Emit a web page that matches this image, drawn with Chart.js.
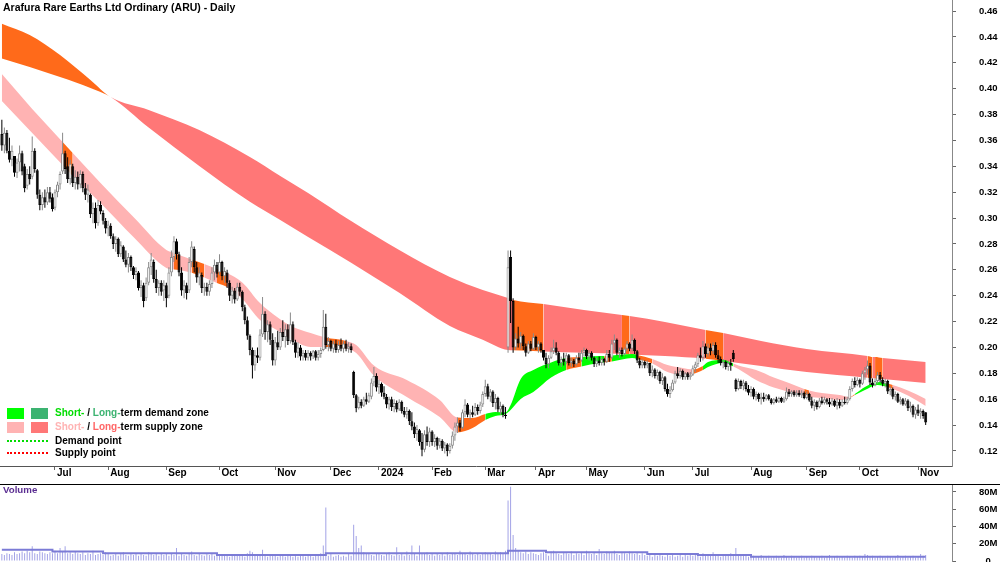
<!DOCTYPE html>
<html>
<head>
<meta charset="utf-8">
<script src="https://cdn.jsdelivr.net/npm/chart.js@4.4.1/dist/chart.umd.min.js"></script>
<style>
  body { margin: 0; background: #fff; font-family: "Liberation Sans", Arial, sans-serif; }
  #wrap { position: relative; width: 1000px; height: 562px; overflow: hidden; background: #fff; }
  canvas { position: absolute; left: 0; }
  #priceChart { top: 0; }
  #volChart { top: 485px; }
  #sep { position: absolute; left: 0; top: 484px; width: 1000px; border-top: 1px solid #000; }
  .txt { position: absolute; white-space: nowrap; font-weight: bold; color: #000; z-index: 2; }
  .box { position: absolute; z-index: 2; }
</style>
</head>
<body>
<div id="wrap">
  <canvas id="priceChart" width="1000" height="483"></canvas>
  <div id="sep"></div>
  <canvas id="volChart" width="1000" height="77"></canvas>

  <div class="txt" style="left:3px;top:1px;font-size:10.5px;line-height:12px">Arafura Rare Earths Ltd Ordinary (ARU) - Daily</div>

  <div class="box" style="left:7px;top:408px;width:17px;height:11px;background:#00ff00"></div>
  <div class="box" style="left:31px;top:408px;width:17px;height:11px;background:#3cb371"></div>
  <div class="txt" style="left:55px;top:407px;font-size:10px;line-height:12px"><span style="color:#00dd00">Short-</span> / <span style="color:#3cb371">Long-</span>term demand zone</div>
  <div class="box" style="left:7px;top:422px;width:17px;height:11px;background:#ffb3b3"></div>
  <div class="box" style="left:31px;top:422px;width:17px;height:11px;background:#ff7777"></div>
  <div class="txt" style="left:55px;top:421px;font-size:10px;line-height:12px"><span style="color:#ffb3b3">Short-</span> / <span style="color:#ff6666">Long-</span>term supply zone</div>
  <div class="box" style="left:7px;top:440px;width:41px;border-top:2px dotted #00dd00"></div>
  <div class="txt" style="left:55px;top:435px;font-size:10px;line-height:12px">Demand point</div>
  <div class="box" style="left:7px;top:452px;width:41px;border-top:2px dotted #ff0000"></div>
  <div class="txt" style="left:55px;top:447px;font-size:10px;line-height:12px">Supply point</div>

  <div class="txt" style="left:3px;top:484px;font-size:9.7px;line-height:12px;color:#5a2d91">Volume</div>
</div>

<script>
// price in 1/1000 dollar, one entry per trading day (Jun 2023 - Nov 2024)
const opens = [
  365,356,366,352,345,348,335,343,350,340, 325,334,332,352,337,318,310,316,312,320,
  316,308,320,326,336,350,340,330,340,327, 332,326,334,323,318,318,303,308,296,310,
  304,298,292,294,286,280,284,272,278,268, 264,270,262,256,258,246,248,238,250,262,
  266,253,246,250,244,248,240,258,270,282, 272,258,244,248,244,266,276,262,254,256,
  246,247,243,249,258,264,258,266,255,258, 250,240,244,237,247,243,231,221,209,198,
  186,194,192,210,226,212,218,206,190,204, 200,212,208,214,205,218,204,196,200,193,
  196,192,196,193,197,192,195,198,216,202, 205,199,203,198,202,199,203,199,201,181,
  163,153,158,155,160,158,162,173,178,169, 172,165,162,156,160,154,157,152,158,151,
  148,151,143,139,133,136,127,121,133,127, 135,127,130,124,128,122,125,120,124,132,
  139,142,138,150,156,148,150,148,154,151, 156,164,170,162,166,157,161,152,155,148,
  200,270,236,200,207,203,209,201,196,203, 199,208,200,203,198,192,187,192,197,200,
  196,188,191,189,194,188,190,187,192,190, 196,198,193,196,192,187,190,188,191,189,
  195,192,203,206,196,198,195,199,203,199, 206,197,190,186,189,186,188,180,183,178,
  181,174,177,168,164,167,173,180,178,182, 177,180,177,179,184,187,194,192,201,195,
  200,197,202,194,191,188,189,185,188,196, 175,168,174,170,173,168,165,168,162,164,
  160,162,160,163,160,157,160,158,161,158, 160,166,164,166,163,165,163,165,161,164,
  159,155,158,154,159,157,160,158,156,159, 155,158,155,158,157,160,168,174,171,175,
  172,180,183,186,173,171,174,179,175,172, 174,166,168,162,164,158,160,156,159,153,
  155,148,152,149,151,150
];
const highs = [
  376,370,368,362,356,348,346,356,352,342, 338,340,363,354,338,322,320,322,324,324,
  319,322,328,336,366,352,347,345,342,337, 336,337,336,327,326,319,312,312,314,313,
  306,300,298,296,288,286,285,282,279,275, 273,271,263,262,259,252,250,254,266,273,
  268,260,252,252,252,250,262,275,286,284, 274,262,252,250,270,282,278,266,262,258,
  250,250,252,262,268,266,272,267,262,260, 252,247,246,250,250,244,233,224,210,200,
  198,200,214,239,228,221,220,211,208,213, 215,221,218,218,227,220,206,204,202,198,
  198,198,197,198,198,198,200,229,226,208, 206,205,206,205,207,205,206,204,203,182,
  164,162,160,162,165,165,176,185,180,175, 173,170,164,162,162,160,159,160,159,154,
  154,152,150,142,140,137,134,136,139,138, 136,133,131,130,129,127,126,126,135,142,
  146,144,152,160,157,152,155,157,156,158, 166,175,172,168,167,164,162,158,156,154,
  275,275,238,211,216,212,210,203,205,205, 211,209,205,204,198,196,194,200,206,204,
  197,193,196,196,195,192,191,194,196,198, 200,199,198,197,193,192,193,193,192,198,
  198,206,210,207,200,200,200,205,204,210, 207,198,192,191,190,190,188,186,184,183,
  182,180,178,172,170,175,182,185,184,183, 181,181,181,186,189,196,200,205,203,203,
  203,204,204,198,193,191,190,190,191,198, 176,176,175,175,174,171,170,169,166,165,
  165,165,164,164,161,161,162,162,162,162, 169,168,167,167,167,167,167,166,166,165,
  162,160,159,161,162,162,161,161,161,160, 161,160,160,162,162,170,176,177,177,176,
  182,185,190,188,176,176,181,181,177,176, 175,170,169,166,165,162,161,161,160,158,
  156,154,156,153,152,150
];
const lows = [
  352,350,350,343,340,332,331,336,333,320, 322,326,330,335,315,306,306,308,310,312,
  305,306,316,322,334,334,327,326,324,322, 322,323,320,314,312,300,296,292,294,303,
  295,288,286,284,276,274,270,270,266,262, 258,259,253,252,244,239,231,236,248,256,
  250,242,240,240,236,231,238,255,266,268, 255,240,238,237,242,262,258,250,248,242,
  240,240,240,246,252,254,256,252,250,246, 236,234,234,236,240,228,218,206,194,176,
  182,188,190,208,206,204,202,186,186,198, 198,205,200,202,203,202,192,192,190,190,
  190,190,190,191,190,190,192,197,199,197, 197,196,196,196,197,196,197,196,196,161,
  150,152,153,154,156,157,160,170,166,164, 162,160,153,152,151,150,150,151,149,146,
  145,140,136,130,128,124,116,119,124,123, 124,123,121,122,120,118,116,118,122,128,
  134,135,137,146,146,144,146,147,148,149, 154,162,160,158,154,152,150,148,146,145,
  196,219,196,198,200,199,198,193,195,197, 198,198,196,196,190,184,184,191,195,194,
  186,185,186,187,186,185,185,186,188,189, 193,191,190,190,185,185,186,186,186,188,
  189,191,198,194,192,193,194,197,197,197, 195,188,184,184,184,184,178,177,176,175,
  172,171,166,162,161,166,172,176,176,175, 175,175,175,178,181,185,189,190,192,193,
  194,195,192,188,186,184,183,182,182,189, 166,167,168,167,166,163,162,160,159,158,
  156,158,159,159,156,156,157,157,157,157, 159,162,162,162,162,162,161,160,160,158,
  153,151,152,153,156,156,156,154,155,154, 152,153,154,156,156,159,166,169,170,169,
  171,175,179,171,169,170,172,173,170,169, 164,163,160,159,157,156,155,155,151,150,
  146,145,147,145,145,140
];
const closes = [
  356,366,352,345,352,335,343,350,336,323, 334,330,352,338,318,310,316,312,320,315,
  307,320,326,334,350,338,330,342,327,332, 326,334,323,318,322,303,308,296,310,305,
  298,292,295,286,280,284,272,279,268,264, 270,262,256,259,246,248,236,250,262,268,
  253,246,250,243,248,238,258,270,282,272, 258,244,248,242,266,278,262,254,258,246,
  247,243,249,258,264,257,266,255,259,250, 240,244,237,247,243,231,221,209,198,186,
  194,192,210,226,212,218,206,190,204,200, 212,208,214,205,218,204,196,200,193,196,
  192,196,193,197,192,195,198,216,202,205, 199,203,198,202,199,203,199,201,198,163,
  153,158,155,160,158,163,173,178,169,172, 165,162,156,160,154,157,152,158,151,148,
  151,143,139,133,137,127,121,133,127,135, 127,130,124,128,122,125,120,124,132,139,
  142,138,150,156,148,150,148,154,151,156, 164,170,162,166,157,161,152,155,148,147,
  262,236,200,207,203,209,201,196,203,199, 208,200,203,198,192,187,192,197,200,196,
  188,191,189,194,188,190,187,192,190,196, 198,193,196,192,187,190,188,191,189,195,
  192,203,206,196,198,195,199,203,199,206, 197,190,186,189,186,188,180,183,178,181,
  174,177,168,164,167,173,180,178,182,177, 180,177,179,184,187,194,192,201,195,200,
  197,202,194,191,188,189,185,188,186,191, 168,174,170,173,168,165,168,162,164,160,
  162,160,163,160,157,160,158,161,158,160, 166,164,166,163,165,163,165,161,164,159,
  155,158,154,159,157,160,158,156,159,155, 158,155,158,157,160,168,174,171,175,172,
  180,183,186,173,171,174,179,175,172,174, 166,168,162,164,158,160,156,159,153,155,
  148,152,149,151,147,142
];
// volume in millions
const volumes = [
  8,7,9,8,7,10,8,9,11,9,12,10,17,9,8,11,10,9,8,10,9,
  12,9,15,11,17,9,10,8,11,9,8,10,7,9,8,12,7,8,9,7,10,
  8,6,7,9,6,8,10,7,6,8,7,9,6,8,7,6,10,8,7,9,6,8,7,
  9,6,8,7,15,6,8,7,6,9,11,7,6,8,7,6,9,7,8,6,7,
  6,8,7,6,5,7,6,8,6,7,5,9,12,10,6,8,7,13,6,5,7,6,
  6,5,7,6,5,6,8,5,6,5,7,6,5,6,7,5,6,8,9,18,62,6,
  8,5,6,7,5,6,5,8,6,42,29,15,18,10,8,9,7,6,8,
  9,7,6,8,10,7,6,16,7,8,6,11,7,18,8,6,18,9,8,10,7,
  8,6,9,7,8,6,10,7,9,8,7,12,9,8,7,11,8,7,9,7,8,
  10,8,9,7,11,8,10,9,12,
  70,86,30,15,12,10,9,11,8,10,9,
  8,7,9,10,8,6,11,12,9,8,7,10,9,8,11,7,9,8,10,7,
  12,9,8,10,7,14,9,8,11,10,9,12,8,7,10,9,8,11,9,8,10,7,9,
  7,6,8,5,7,6,9,6,5,7,6,8,5,6,7,5,8,6,7,
  6,8,7,5,9,6,7,8,10,6,7,5,8,6,7,9,8,15,7,6,8,6,5,
  5,6,4,5,7,4,5,6,4,5,6,5,4,7,5,4,6,5,4,5,6,4,
  5,4,6,5,4,5,6,4,5,7,4,5,6,4,5,4,6,5,4,6,5,
  6,5,8,7,5,6,4,5,6,5,4,6,5,4,5,7,4,5,6,4,5,6,4,
  5,8,6,7
];
// average volume (millions), stepped
const avgIdx = [0, 20, 40, 85, 128, 200, 215, 255, 275, 296, 365];
const avgVol = [13, 11, 9, 7, 9, 12, 10, 8, 7, 5, 5];

// long-term zone edges (sampled by bar index)
const longIdx = [0,11,23,35,43,58,78,98,110,121,138,157,177,190,200,202,214,230,245,248,262,278,285,300,318,342,344,345,348,365];
const longTop = [0.4502,0.4415,0.4260,0.4067,0.3935,0.3835,0.3680,0.3472,0.3325,0.3194,0.2977,0.2753,0.2544,0.2444,0.2382,0.2367,0.2336,0.2289,0.2251,0.2243,0.2197,0.2135,0.2112,0.2050,0.1988,0.1934,0.1926,0.1926,0.1918,0.1888];
const longBot = [0.4233,0.4167,0.4090,0.4005,0.3935,0.3699,0.3403,0.3126,0.2985,0.2854,0.2655,0.2422,0.2166,0.2060,0.1980,0.1978,0.1969,0.1959,0.1949,0.1945,0.1934,0.1913,0.1895,0.1857,0.1810,0.1766,0.1762,0.1761,0.1756,0.1725];
const longOrange = [[0,43],[202,214],[245,248],[278,285],[342,344],[345,348]];

// short-term zone edges
const shortIdx = [0,12,24,28,39,52,65,68,70,75,80,85,89,95,102,109,115,122,128,136,140,147,160,173,180,186,191,195,199,201,205,210,217,223,229,236,238,241,249,251,257,263,269,273,277,279,285,289,291,298,305,311,317,319,324,331,335,337,341,346,350,352,358,365];
const shortTop = [0.4113,0.3843,0.3588,0.3503,0.3271,0.3008,0.2753,0.2730,0.2714,0.2680,0.2645,0.2606,0.2575,0.2502,0.2343,0.2231,0.2158,0.2112,0.2077,0.2050,0.2019,0.1860,0.1748,0.1594,0.1459,0.1455,0.1486,0.1501,0.1497,0.1555,0.1756,0.1826,0.1884,0.1918,0.1926,0.1934,0.1934,0.1938,0.1949,0.1942,0.1911,0.1864,0.1841,0.1830,0.1857,0.1887,0.1903,0.1876,0.1860,0.1826,0.1768,0.1725,0.1679,0.1667,0.1648,0.1632,0.1617,0.1640,0.1694,0.1733,0.1721,0.1710,0.1667,0.1602];
const shortBot = [0.3904,0.3657,0.3410,0.3325,0.3116,0.2853,0.2614,0.2602,0.2598,0.2577,0.2541,0.2498,0.2467,0.2374,0.2212,0.2131,0.2057,0.2003,0.2003,0.1992,0.1957,0.1783,0.1617,0.1462,0.1343,0.1377,0.1439,0.1470,0.1486,0.1517,0.1602,0.1656,0.1768,0.1826,0.1853,0.1880,0.1884,0.1891,0.1918,0.1911,0.1876,0.1810,0.1787,0.1795,0.1826,0.1849,0.1880,0.1853,0.1833,0.1748,0.1690,0.1656,0.1625,0.1617,0.1609,0.1594,0.1609,0.1632,0.1671,0.1710,0.1694,0.1679,0.1629,0.1548];
const shortOrange = [[24,28],[68,70],[75,80],[85,89],[128,136],[180,191],[223,229],[238,241],[251,257],[273,277],[317,319],[335,337],[350,352]];
const shortGreen = [[191,223],[229,238],[241,251],[277,289],[337,350]];

// axes
const monthIdx = [21,42,65,86,108,130,149,170,191,211,231,254,273,296,318,339,362];
const monthLabels = ['Jul','Aug','Sep','Oct','Nov','Dec','2024','Feb','Mar','Apr','May','Jun','Jul','Aug','Sep','Oct','Nov'];
const priceTicks = [0.12,0.14,0.16,0.18,0.20,0.22,0.24,0.26,0.28,0.30,0.32,0.34,0.36,0.38,0.40,0.42,0.44,0.46];
const volTicks = [0, 20, 40, 60, 80];

const X_MIN = -0.73, X_MAX = 375.4;
const ORANGE = '#ff6a1a', PINK = '#ffb3b3', RED = '#ff7777', GREEN = '#00ff00';
const UP = '#8a8a8a', DOWN = '#000000';
const axisFont = { family: '"Liberation Sans", Arial, sans-serif', size: 9.5, weight: 'bold' };

const within = (ranges, a, b) => ranges.some(r => a >= r[0] && b <= r[1]);
const pts = (idx, vals) => idx.map((x, k) => ({ x: x, y: vals[k] }));
const up = i => closes[i] >= opens[i];

// y axes: fixed width, no extra top/bottom padding from the labels
function fitY(s) {
    s.width = 48;
    s.paddingTop = 0;
    s.paddingBottom = 0;
}

const wickData = highs.map((h, i) => ({ x: i, y: [lows[i] / 1000, h / 1000] }));
const bodyData = opens.map((o, i) => ({ x: i, y: [o / 1000, closes[i] / 1000] }));

const priceChart = new Chart(document.getElementById('priceChart'), {
    type: 'bar',
    data: {
        datasets: [
            {
                label: 'body', data: bodyData, order: 0, grouped: false,
                barThickness: 3, borderWidth: 1, borderSkipped: false, inflateAmount: 0,
                backgroundColor: ctx => up(ctx.dataIndex) ? '#ffffff' : DOWN,
                borderColor: ctx => up(ctx.dataIndex) ? UP : DOWN
            },
            {
                label: 'wick', data: wickData, order: 1, grouped: false,
                barThickness: 1, borderWidth: 0, inflateAmount: 0,
                backgroundColor: ctx => up(ctx.dataIndex) ? UP : DOWN
            },
            {
                type: 'line', label: 'shortTop', data: pts(shortIdx, shortTop), order: 2,
                borderColor: 'rgba(0,0,0,0)', backgroundColor: PINK, pointRadius: 0,
                cubicInterpolationMode: 'monotone', fill: '+1',
                segment: {
                    backgroundColor: ctx => {
                        const a = ctx.p0.parsed.x, b = ctx.p1.parsed.x;
                        if (within(shortOrange, a, b)) return ORANGE;
                        if (within(shortGreen, a, b)) return GREEN;
                        return PINK;
                    }
                }
            },
            {
                type: 'line', label: 'shortBot', data: pts(shortIdx, shortBot), order: 2,
                borderColor: 'rgba(0,0,0,0)', pointRadius: 0,
                cubicInterpolationMode: 'monotone', fill: false
            },
            {
                type: 'line', label: 'longTop', data: pts(longIdx, longTop), order: 3,
                borderColor: 'rgba(0,0,0,0)', backgroundColor: RED, pointRadius: 0,
                cubicInterpolationMode: 'monotone', fill: '+1',
                segment: {
                    backgroundColor: ctx => within(longOrange, ctx.p0.parsed.x, ctx.p1.parsed.x) ? ORANGE : RED
                }
            },
            {
                type: 'line', label: 'longBot', data: pts(longIdx, longBot), order: 3,
                borderColor: 'rgba(0,0,0,0)', pointRadius: 0,
                cubicInterpolationMode: 'monotone', fill: false
            }
        ]
    },
    options: {
        responsive: false,
        animation: false,
        events: [],
        layout: { padding: 0 },
        plugins: { legend: { display: false }, tooltip: { enabled: false } },
        scales: {
            x: {
                type: 'linear', min: X_MIN, max: X_MAX, offset: false,
                afterBuildTicks: s => { s.ticks = monthIdx.map(v => ({ value: v })); },
                afterFit: s => { s.height = 17; s.paddingLeft = 0; s.paddingRight = 0; },
                grid: { drawOnChartArea: false, offset: false, tickLength: 4, color: '#666' },
                border: { color: '#555' },
                ticks: {
                    autoSkip: false, maxRotation: 0, align: 'start', padding: -3, labelOffset: 2,
                    color: '#000', font: { family: axisFont.family, size: 10, weight: 'bold' },
                    callback: (v, i) => monthLabels[i]
                }
            },
            y: {
                position: 'right',
                min: 0.12 - 15 / 1294, max: 0.46 + 11 / 1294,
                afterBuildTicks: s => { s.ticks = priceTicks.map(v => ({ value: v })); },
                afterFit: fitY,
                grid: { drawOnChartArea: false, tickLength: 4, color: '#666' },
                border: { color: '#888' },
                ticks: { crossAlign: 'center', padding: 23, color: '#000', font: axisFont, callback: v => v.toFixed(2) }
            }
        }
    }
});

const volChart = new Chart(document.getElementById('volChart'), {
    type: 'bar',
    data: {
        datasets: [
            {
                type: 'line', label: 'avg', data: pts(avgIdx, avgVol), order: 0,
                stepped: true, borderColor: '#7b7bd6', borderWidth: 2, pointRadius: 0, fill: false
            },
            {
                label: 'volume', data: volumes.map((v, i) => ({ x: i, y: v })), order: 1,
                barThickness: 1, grouped: false, inflateAmount: 0, backgroundColor: '#a3a3e6'
            }
        ]
    },
    options: {
        responsive: false,
        animation: false,
        events: [],
        layout: { padding: { bottom: 1 } },
        plugins: { legend: { display: false }, tooltip: { enabled: false } },
        scales: {
            x: { type: 'linear', min: X_MIN, max: X_MAX, offset: false, display: false },
            y: {
                position: 'right', min: 0, max: 88.1,
                afterBuildTicks: s => { s.ticks = volTicks.map(v => ({ value: v })); },
                afterFit: fitY,
                grid: { drawOnChartArea: false, tickLength: 4, color: '#666' },
                border: { color: '#888' },
                ticks: { crossAlign: 'center', padding: 23, color: '#000', font: axisFont, callback: v => v ? v + 'M' : '0' }
            }
        }
    }
});
</script>
</body>
</html>
